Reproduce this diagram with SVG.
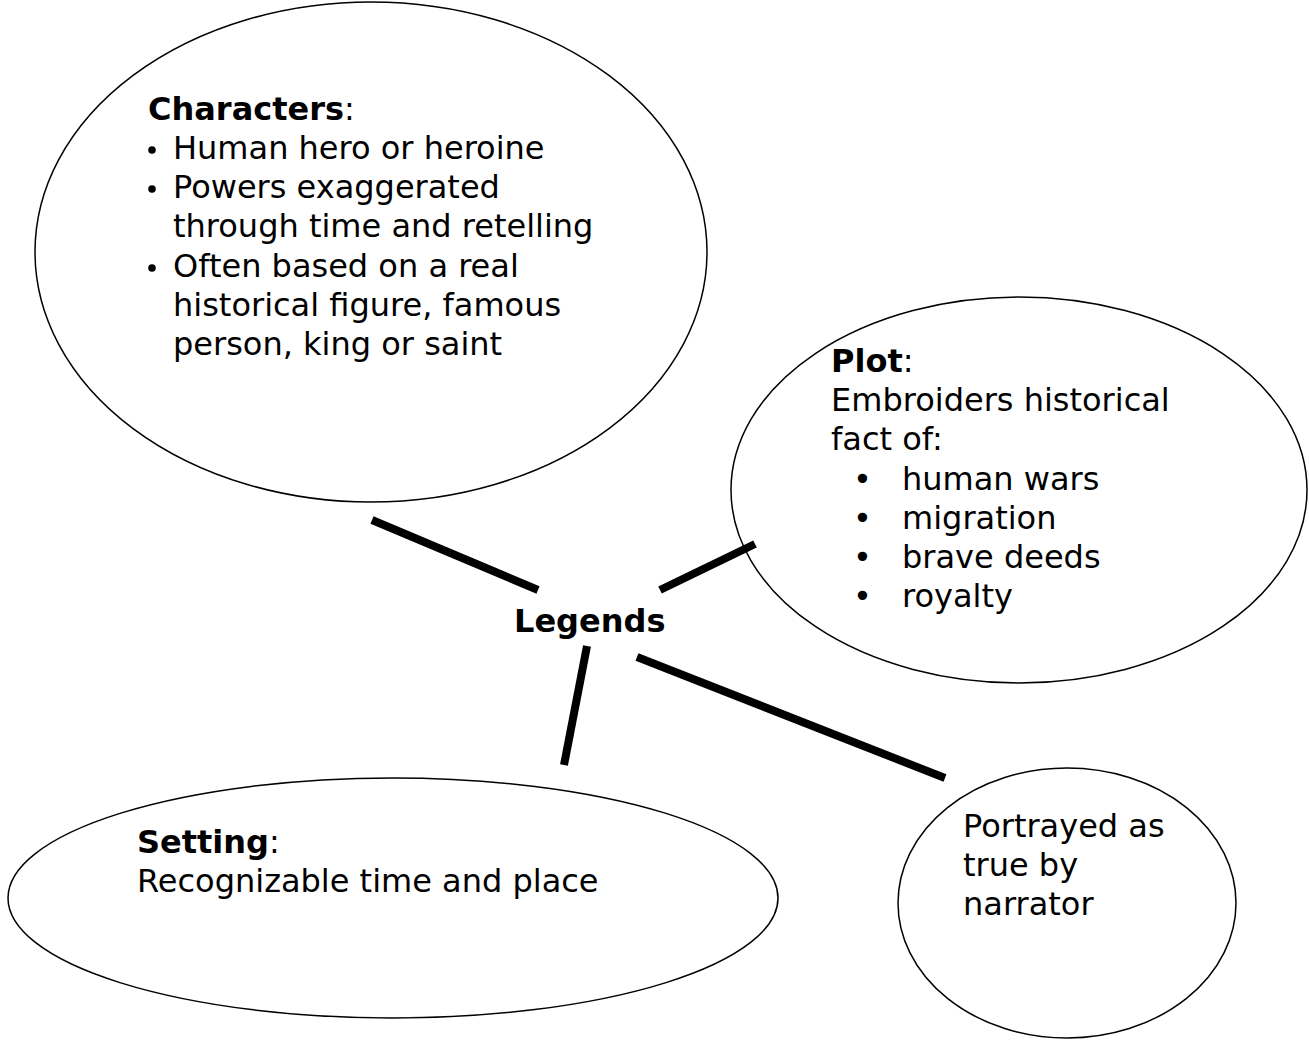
<svg xmlns="http://www.w3.org/2000/svg" width="1309" height="1040" viewBox="0 0 1309 1040">
<style>
text { font-family: "DejaVu Sans", Verdana, sans-serif; font-size: 32px; fill: #000; }
.b { font-weight: bold; }
.node { fill: #fff; stroke: #000; stroke-width: 1.5; }
.conn { stroke: #000; stroke-width: 8; fill: none; }
.dot { fill: #000; }
</style>
<rect width="1309" height="1040" fill="#fff"/>
<g id="characters">
<ellipse class="node" cx="371" cy="252" rx="336" ry="250"/>
<text x="148" y="120"><tspan class="b">Characters</tspan>:</text>
<circle class="dot" cx="152" cy="150" r="3.8"/><text x="173" y="159">Human hero or heroine</text>
<circle class="dot" cx="152" cy="189" r="3.8"/><text x="173" y="198">Powers exaggerated</text>
<text x="173" y="237">through time and retelling</text>
<circle class="dot" cx="152" cy="268" r="3.8"/><text x="173" y="277">Often based on a real</text>
<text x="173" y="316">historical figure, famous</text>
<text x="173" y="355">person, king or saint</text>
</g>
<g id="plot">
<ellipse class="node" cx="1019" cy="490" rx="288" ry="193"/>
<text x="831" y="372"><tspan class="b">Plot</tspan>:</text>
<text x="831" y="411">Embroiders historical</text>
<text x="831" y="450">fact of:</text>
<text x="853" y="490">•</text><text x="902" y="490">human wars</text>
<text x="853" y="529">•</text><text x="902" y="529">migration</text>
<text x="853" y="568">•</text><text x="902" y="568">brave deeds</text>
<text x="853" y="607">•</text><text x="902" y="607">royalty</text>
</g>
<g id="setting">
<ellipse class="node" cx="393" cy="898" rx="385" ry="120"/>
<text x="137" y="853"><tspan class="b">Setting</tspan>:</text>
<text x="137" y="892">Recognizable time and place</text>
</g>
<g id="portrayed">
<ellipse class="node" cx="1067" cy="903" rx="169" ry="135"/>
<text x="963" y="837">Portrayed as</text>
<text x="963" y="876">true by</text>
<text x="963" y="915">narrator</text>
</g>
<g id="legends">
<text class="b" x="514" y="632">Legends</text>
</g>
<g id="connectors">
<line class="conn" x1="372" y1="520" x2="538" y2="590"/>
<line class="conn" x1="660" y1="590" x2="755" y2="544"/>
<line class="conn" x1="587" y1="646" x2="564" y2="765"/>
<line class="conn" x1="637" y1="657" x2="945" y2="778"/>
</g>
</svg>
